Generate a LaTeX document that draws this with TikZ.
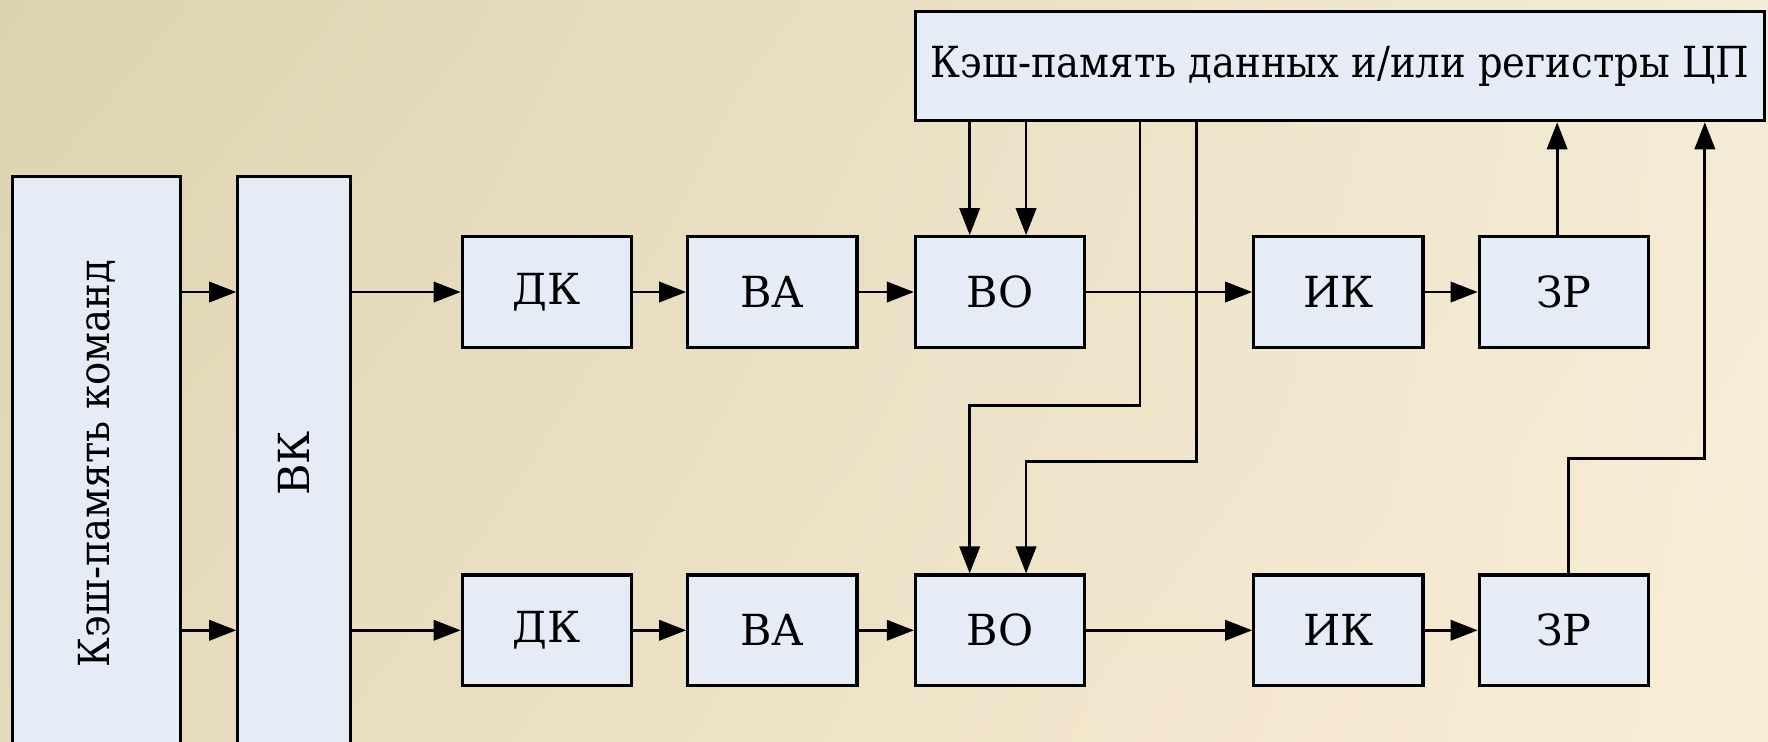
\documentclass[tikz,border=0pt]{standalone}
\usepackage{fontspec}
\newfontfamily\boxfont{DejaVu Serif}
\newfontfamily\narrowfont[FakeStretch=0.90]{DejaVu Serif}
\usepackage{xcolor}
\usetikzlibrary{arrows.meta, positioning, shadings}
\definecolor{bgtl}{RGB}{221,210,176}
\definecolor{bgtr}{RGB}{244,236,214}
\definecolor{bgbl}{RGB}{229,218,187}
\definecolor{bgbr}{RGB}{250,237,214}
\definecolor{boxfill}{RGB}{230,236,246}

\begin{document}
\begin{tikzpicture}[x=0.01cm, y=-0.01cm,
    blk/.style={draw, fill=boxfill, line width=0.8pt, minimum width=1.5cm, minimum height=0.98cm, inner sep=0pt, font={\boxfont\fontsize{10.8pt}{13pt}\selectfont}},
    wide/.style={blk, font={\narrowfont\fontsize{10.8pt}{13pt}\selectfont}},
    wire/.style={line width=0.7pt, -{Triangle[length=0.24cm, width=0.18cm]}}]
    \clip (0,0) rectangle (1568,658);
    \path[upper left=bgtl, upper right=bgtr, lower left=bgbl, lower right=bgbr] (0,0) rectangle (1568,658);

    \node[wide, minimum width=7.53cm, minimum height=0.97cm] (dcache) at (1188.5,58.5) {Кэш-память данных и/или регистры ЦП};
    \node[wide, minimum width=1.49cm, minimum height=5.08cm] (icache) at (85.5,411) {\rotatebox{90}{Кэш-память команд}};
    \node[blk, minimum width=1.0cm, minimum height=5.08cm] (vk) at (261,411) {\rotatebox{90}{ВК}};

    \foreach \r/\y in {1/259,2/559} {
        \node[blk] (dk\r) at (485,\y) {ДК};
        \node[blk] (va\r) at (685,\y) {ВА};
        \node[blk] (bo\r) at (887,\y) {ВО};
        \node[blk] (ik\r) at (1187,\y) {ИК};
        \node[blk] (zr\r) at (1387,\y) {ЗР};
        \draw[wire] (icache.east |- dk\r) -- (vk.west |- dk\r);
        \draw[wire] (vk.east |- dk\r) -- (dk\r);
        \draw[wire] (dk\r) -- (va\r);
        \draw[wire] (va\r) -- (bo\r);
        \draw[wire] (bo\r) -- (ik\r);
        \draw[wire] (ik\r) -- (zr\r);
    }

    % bus columns
    \coordinate (b1) at (860,0);
    \coordinate (b2) at (910,0);
    \coordinate (b3) at (1011,0);
    \coordinate (b4) at (1061,0);
    \coordinate (b5) at (1381,0);
    \coordinate (b6) at (1512,0);
    \coordinate (b7) at (1391,0);

    \draw[wire] (dcache.south -| b1) -- (bo1.north -| b1);
    \draw[wire] (dcache.south -| b2) -- (bo1.north -| b2);
    \draw[wire] (dcache.south -| b3) -- ++(0,251) -| (bo2.north -| b1);
    \draw[wire] (dcache.south -| b4) -- ++(0,301) -| (bo2.north -| b2);
    \draw[wire] (zr1.north -| b5) -- (dcache.south -| b5);
    \draw[wire] (zr2.north -| b7) -- ++(0,-102) -| (dcache.south -| b6);
\end{tikzpicture}
\end{document}
